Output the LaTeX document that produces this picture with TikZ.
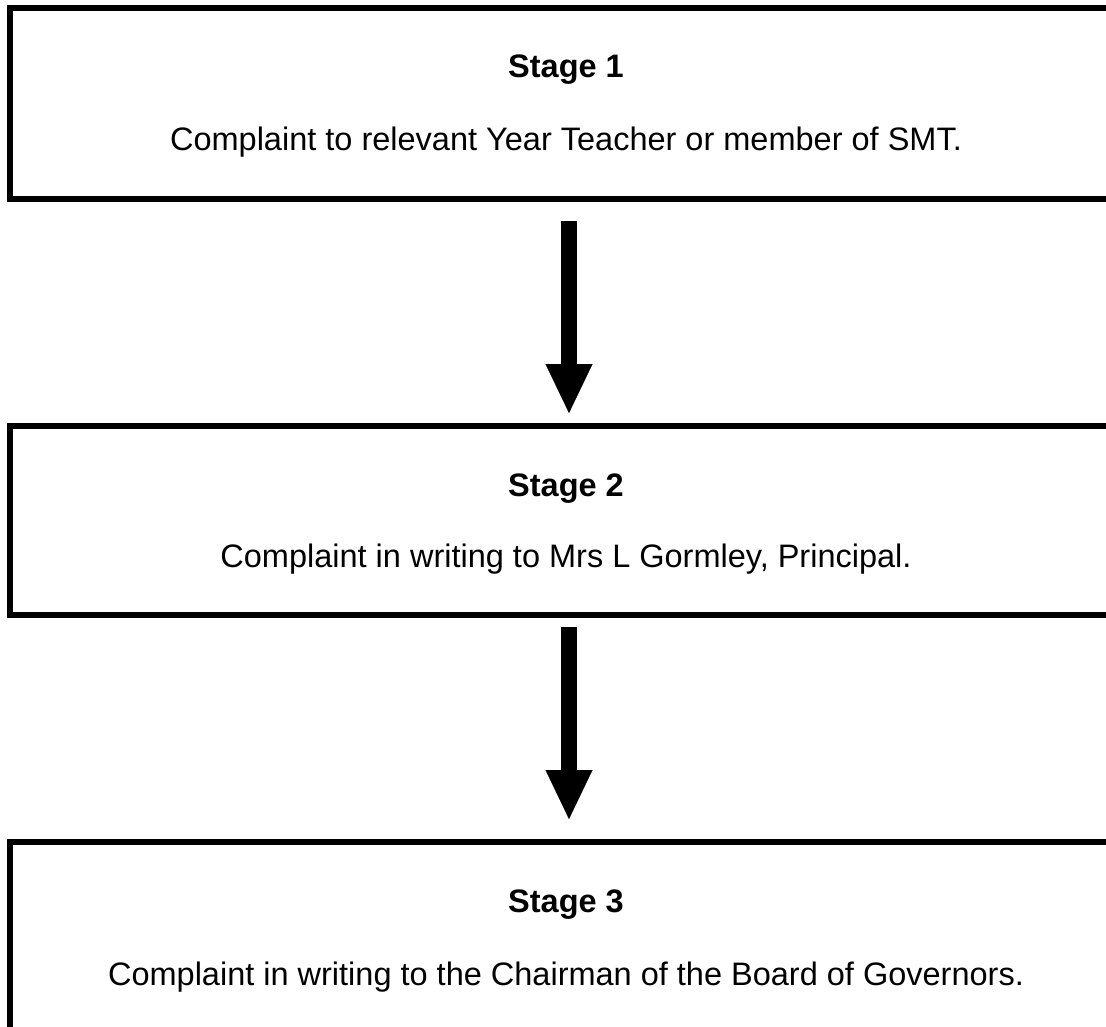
\documentclass[tikz,border=0pt]{standalone}
\usepackage{fontspec}
\setmainfont{Liberation Sans}
\usetikzlibrary{arrows.meta}
\begin{document}
\begin{tikzpicture}[x=1pt,y=-1pt,
  stagebox/.style={draw=black,line width=6pt,rectangle,inner sep=0pt,outer sep=0pt,anchor=north west,minimum width=1130pt},
  title/.style={anchor=base,font=\fontsize{32.5}{39}\selectfont\bfseries,inner sep=0pt},
  body/.style={anchor=base,font=\fontsize{32.5}{39}\selectfont,inner sep=0pt},
  bigarrow/.style={line width=16pt,-{Triangle[width=47pt,length=49pt,line width=0.1pt]}}]
\useasboundingbox (0,0) rectangle (1106,1027);
\clip (0,0) rectangle (1106,1027);
\fill[white] (0,0) rectangle (1106,1027);
\node[stagebox,minimum height=191pt] (box1) at (10,8) {};
\node[stagebox,minimum height=189pt] (box2) at (10,426) {};
\node[stagebox,minimum height=220pt] (box3) at (10,842) {};
\coordinate (ax) at (569,0);
\node[title] (t1) at (566,78) {Stage 1};
\node[body] (c1) at (566,151) {Complaint to relevant Year Teacher or member of SMT.};
\node[title] (t2) at (566,496) {Stage 2};
\node[body] (c2) at (566,567) {Complaint in writing to Mrs L Gormley, Principal.};
\node[title] (t3) at (566,912) {Stage 3};
\node[body] (c3) at (566,985) {Complaint in writing to the Chairman of the Board of Governors.};
\draw[bigarrow,shorten <=22pt,shorten >=13pt] (box1.south -| ax) -- (box2.north -| ax);
\draw[bigarrow,shorten <=12pt,shorten >=23pt] (box2.south -| ax) -- (box3.north -| ax);
\end{tikzpicture}
\end{document}
